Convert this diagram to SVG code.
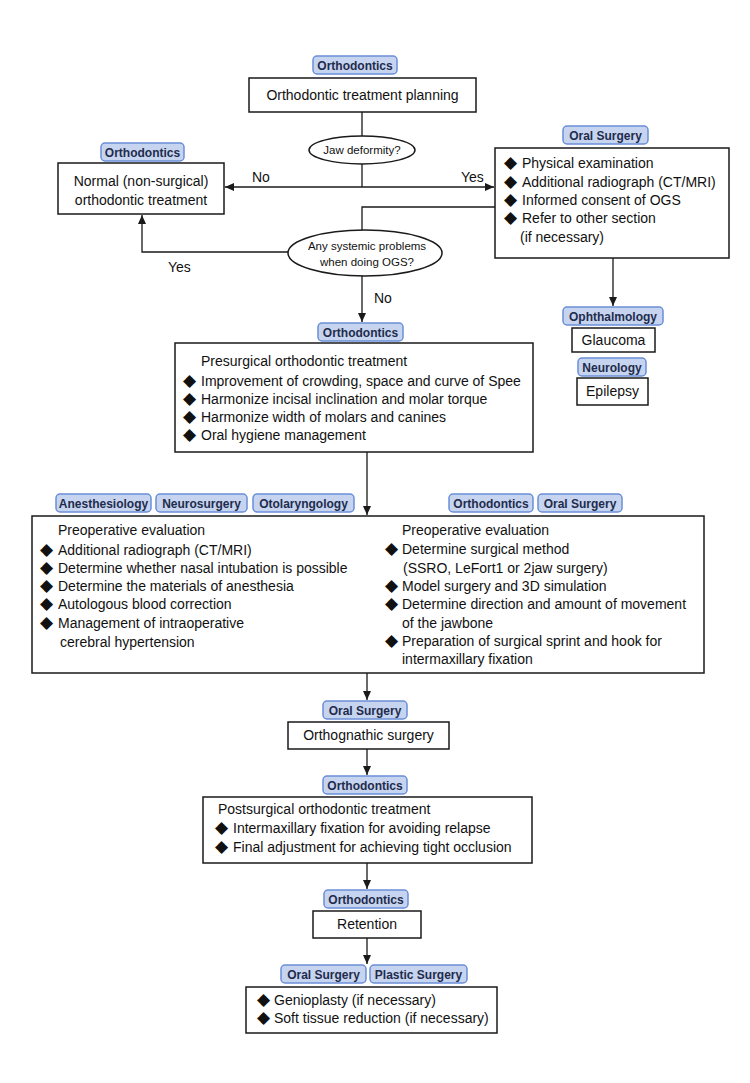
<svg xmlns="http://www.w3.org/2000/svg" width="750" height="1083" viewBox="0 0 750 1083">
<defs>
<marker id="arr" markerWidth="10" markerHeight="10" refX="9" refY="5" orient="auto" markerUnits="userSpaceOnUse">
<path d="M0,1 L9,5 L0,9 Z" fill="#1a1a1a"/>
</marker>
<style>
.bg{fill:#c6d4f0;stroke:#6a8fd8;stroke-width:1.5}
.bt{font-family:"Liberation Sans",Arial,sans-serif;font-size:12px;font-weight:bold;fill:#1f2c4c;text-anchor:middle}
.box{fill:#fff;stroke:#1a1a1a;stroke-width:1.5}
.t{font-family:"Liberation Sans",Arial,sans-serif;font-size:14px;fill:#111}
.c{text-anchor:middle}
.d{font-family:"DejaVu Sans",sans-serif;font-size:17px;fill:#111}
.e{font-family:"Liberation Sans",Arial,sans-serif;font-size:11.5px;fill:#111;text-anchor:middle}
.ln{fill:none;stroke:#1a1a1a;stroke-width:1.3}
</style>
</defs>
<rect width="750" height="1083" fill="#fff"/>

<g id="connectors">
<path class="ln" d="M362,112 V136"/>
<path class="ln" d="M362,164 V187"/>
<path class="ln" d="M362,187 H225" marker-end="url(#arr)"/>
<path class="ln" d="M362,187 H494" marker-end="url(#arr)"/>
<path class="ln" d="M495,207 H362 V230"/>
<path class="ln" d="M288,252 H142 V215" marker-end="url(#arr)"/>
<path class="ln" d="M362,276 V322" marker-end="url(#arr)"/>
<path class="ln" d="M613,258 V306" marker-end="url(#arr)"/>
<path class="ln" d="M367,452 V515" marker-end="url(#arr)"/>
<path class="ln" d="M367,673 V700" marker-end="url(#arr)"/>
<path class="ln" d="M367,749 V775" marker-end="url(#arr)"/>
<path class="ln" d="M367,863 V889" marker-end="url(#arr)"/>
<path class="ln" d="M367,938 V964" marker-end="url(#arr)"/>
<text class="t" x="252" y="182">No</text>
<text class="t" x="461" y="182">Yes</text>
<text class="t" x="168" y="272">Yes</text>
<text class="t" x="374" y="303">No</text>
</g>

<g id="planning">
<rect class="bg" x="313" y="56" width="84" height="18" rx="4"/>
<text class="bt" x="355" y="69.5">Orthodontics</text>
<rect class="box" x="249" y="78" width="227" height="34"/>
<text class="t c" x="362.5" y="100">Orthodontic treatment planning</text>
</g>

<g id="jaw-deformity">
<ellipse cx="362" cy="150" rx="53" ry="14" class="box"/>
<text class="e" x="362" y="154" font-size="12">Jaw deformity?</text>
</g>

<g id="normal-treatment">
<rect class="bg" x="101" y="143" width="83" height="18" rx="4"/>
<text class="bt" x="142.5" y="156.5">Orthodontics</text>
<rect class="box" x="58" y="163" width="166" height="51"/>
<text class="t c" x="141" y="186">Normal (non-surgical)</text>
<text class="t c" x="141" y="205">orthodontic treatment</text>
</g>

<g id="oral-surgery-exam">
<rect class="bg" x="563" y="126" width="85" height="18" rx="4"/>
<text class="bt" x="605.5" y="139.5">Oral Surgery</text>
<rect class="box" x="495" y="148" width="234" height="110"/>
<text class="d" x="504" y="168">◆</text><text class="t" x="522" y="168">Physical examination</text>
<text class="d" x="504" y="187">◆</text><text class="t" x="522" y="187">Additional radiograph (CT/MRI)</text>
<text class="d" x="504" y="205">◆</text><text class="t" x="522" y="205">Informed consent of OGS</text>
<text class="d" x="504" y="223">◆</text><text class="t" x="522" y="223">Refer to other section</text>
<text class="t" x="520" y="242">(if necessary)</text>
</g>

<g id="systemic-problems">
<ellipse cx="365" cy="253" rx="77" ry="23" class="box"/>
<text class="e" x="367" y="250">Any systemic problems</text>
<text class="e" x="367" y="266">when doing OGS?</text>
</g>

<g id="glaucoma">
<rect class="bg" x="563" y="307" width="100" height="18" rx="4"/>
<text class="bt" x="613" y="320.5">Ophthalmology</text>
<rect class="box" x="572" y="328" width="83" height="24"/>
<text class="t c" x="613.5" y="345">Glaucoma</text>
</g>

<g id="epilepsy">
<rect class="bg" x="578" y="358" width="68" height="18" rx="4"/>
<text class="bt" x="612" y="371.5">Neurology</text>
<rect class="box" x="577" y="378" width="71" height="27"/>
<text class="t c" x="612.5" y="396">Epilepsy</text>
</g>

<g id="presurgical">
<rect class="bg" x="318" y="323" width="85" height="18" rx="4"/>
<text class="bt" x="360.5" y="336.5">Orthodontics</text>
<rect class="box" x="175" y="343" width="358" height="109"/>
<text class="t" x="201" y="366">Presurgical orthodontic treatment</text>
<text class="d" x="183" y="386">◆</text><text class="t" x="201" y="386">Improvement of crowding, space and curve of Spee</text>
<text class="d" x="183" y="404">◆</text><text class="t" x="201" y="404">Harmonize incisal inclination and molar torque</text>
<text class="d" x="183" y="422">◆</text><text class="t" x="201" y="422">Harmonize width of molars and canines</text>
<text class="d" x="183" y="440">◆</text><text class="t" x="201" y="440">Oral hygiene management</text>
</g>

<g id="preoperative">
<rect class="bg" x="56" y="494" width="95" height="18" rx="4"/>
<text class="bt" x="103.5" y="507.5">Anesthesiology</text>
<rect class="bg" x="156" y="494" width="91" height="18" rx="4"/>
<text class="bt" x="201.5" y="507.5">Neurosurgery</text>
<rect class="bg" x="253" y="494" width="101" height="18" rx="4"/>
<text class="bt" x="303.5" y="507.5">Otolaryngology</text>
<rect class="bg" x="449" y="494" width="84" height="18" rx="4"/>
<text class="bt" x="491" y="507.5">Orthodontics</text>
<rect class="bg" x="538" y="494" width="84" height="18" rx="4"/>
<text class="bt" x="580" y="507.5">Oral Surgery</text>
<rect class="box" x="32" y="516" width="672" height="157"/>
<text class="t" x="58" y="535">Preoperative evaluation</text>
<text class="d" x="40" y="555">◆</text><text class="t" x="58" y="555">Additional radiograph (CT/MRI)</text>
<text class="d" x="40" y="573">◆</text><text class="t" x="58" y="573">Determine whether nasal intubation is possible</text>
<text class="d" x="40" y="591">◆</text><text class="t" x="58" y="591">Determine the materials of anesthesia</text>
<text class="d" x="40" y="609">◆</text><text class="t" x="58" y="609">Autologous blood correction</text>
<text class="d" x="40" y="628">◆</text><text class="t" x="58" y="628">Management of intraoperative</text>
<text class="t" x="60" y="647">cerebral hypertension</text>
<text class="t" x="402" y="535">Preoperative evaluation</text>
<text class="d" x="385" y="554">◆</text><text class="t" x="402" y="554">Determine surgical method</text>
<text class="t" x="403" y="573">(SSRO, LeFort1 or 2jaw surgery)</text>
<text class="d" x="385" y="591">◆</text><text class="t" x="402" y="591">Model surgery and 3D simulation</text>
<text class="d" x="385" y="609">◆</text><text class="t" x="402" y="609">Determine direction and amount of movement</text>
<text class="t" x="402" y="628">of the jawbone</text>
<text class="d" x="385" y="646">◆</text><text class="t" x="402" y="646">Preparation of surgical sprint and hook for</text>
<text class="t" x="402" y="664">intermaxillary fixation</text>
</g>

<g id="orthognathic-surgery">
<rect class="bg" x="323" y="701" width="84" height="18" rx="4"/>
<text class="bt" x="365" y="714.5">Oral Surgery</text>
<rect class="box" x="288" y="722" width="161" height="27"/>
<text class="t c" x="368.5" y="740">Orthognathic surgery</text>
</g>

<g id="postsurgical">
<rect class="bg" x="323" y="776" width="84" height="18" rx="4"/>
<text class="bt" x="365" y="789.5">Orthodontics</text>
<rect class="box" x="203" y="797" width="329" height="66"/>
<text class="t" x="218" y="814">Postsurgical orthodontic treatment</text>
<text class="d" x="215" y="833">◆</text><text class="t" x="233" y="833">Intermaxillary fixation for avoiding relapse</text>
<text class="d" x="215" y="852">◆</text><text class="t" x="233" y="852">Final adjustment for achieving tight occlusion</text>
</g>

<g id="retention">
<rect class="bg" x="324" y="890" width="84" height="18" rx="4"/>
<text class="bt" x="366" y="903.5">Orthodontics</text>
<rect class="box" x="313" y="911" width="108" height="27"/>
<text class="t c" x="367" y="929">Retention</text>
</g>

<g id="final">
<rect class="bg" x="281" y="965" width="85" height="18" rx="4"/>
<text class="bt" x="323.5" y="978.5">Oral Surgery</text>
<rect class="bg" x="370" y="965" width="97" height="18" rx="4"/>
<text class="bt" x="418.5" y="978.5">Plastic Surgery</text>
<rect class="box" x="246" y="987" width="251" height="46"/>
<text class="d" x="257" y="1005">◆</text><text class="t" x="274" y="1005">Genioplasty (if necessary)</text>
<text class="d" x="257" y="1023">◆</text><text class="t" x="274" y="1023">Soft tissue reduction (if necessary)</text>
</g>
</svg>
